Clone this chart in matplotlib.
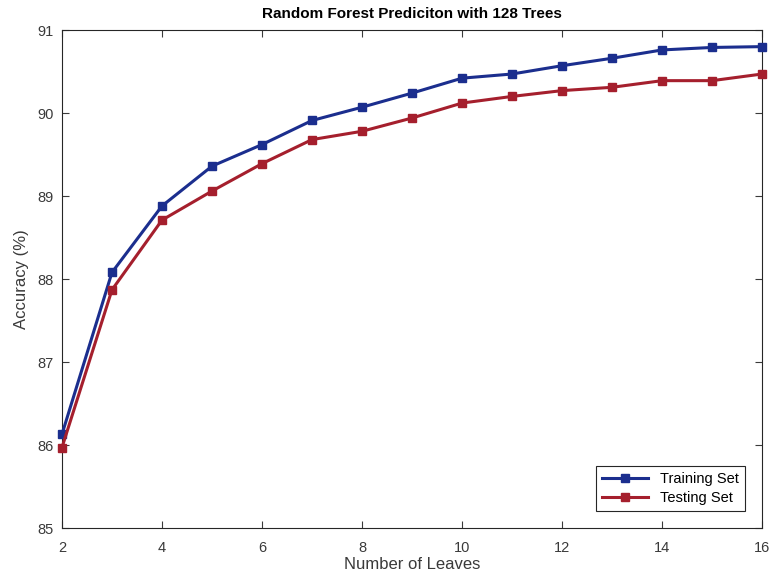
import matplotlib
matplotlib.use('Agg')
import matplotlib.pyplot as plt

plt.rcParams['font.family'] = ['Liberation Sans', 'DejaVu Sans']

leaves = [2, 3, 4, 5, 6, 7, 8, 9, 10, 11, 12, 13, 14, 15, 16]
training = [86.13, 88.08, 88.88, 89.36, 89.62, 89.91, 90.07, 90.24, 90.42,
            90.47, 90.57, 90.66, 90.76, 90.79, 90.80]
testing = [85.97, 87.87, 88.71, 89.06, 89.39, 89.68, 89.78, 89.94, 90.12,
           90.20, 90.27, 90.31, 90.39, 90.39, 90.47]

fig = plt.figure(figsize=(7.69, 5.83), dpi=100)
ax = fig.add_axes([0.0806, 0.0943, 0.9104, 0.8542])

ax.plot(leaves, training, '-s', color='#1b2e8e', linewidth=2.2,
        markersize=6, label='Training Set', clip_on=False, zorder=3)
ax.plot(leaves, testing, '-s', color='#a51f2d', linewidth=2.2,
        markersize=6, label='Testing Set', clip_on=False, zorder=3)

ax.set_xlim(2, 16)
ax.set_ylim(85, 91)
ax.set_xticks(range(2, 17, 2))
ax.set_yticks(range(85, 92))
ax.tick_params(direction='in', top=True, right=True, labelsize=10.5,
               colors='#3a3a3a', length=5)
ax.tick_params(axis='x', pad=9)
ax.tick_params(axis='y', pad=6)
for s in ax.spines.values():
    s.set_color('#262626')
    s.set_linewidth(0.8)

ax.set_xlabel('Number of Leaves', fontsize=12, color='#3a3a3a', labelpad=2)
ax.set_ylabel('Accuracy (%)', fontsize=12, color='#3a3a3a', labelpad=6)
ax.set_title('Random Forest Prediciton with 128 Trees', fontsize=11,
             fontweight='bold', pad=9)

leg = ax.legend(loc='lower right', fontsize=10.5, fancybox=False,
                edgecolor='#262626', framealpha=1, borderaxespad=1.2,
                handlelength=3.2, labelspacing=0.3)
leg.get_frame().set_linewidth(0.8)

fig.savefig('out.png', dpi=100)
